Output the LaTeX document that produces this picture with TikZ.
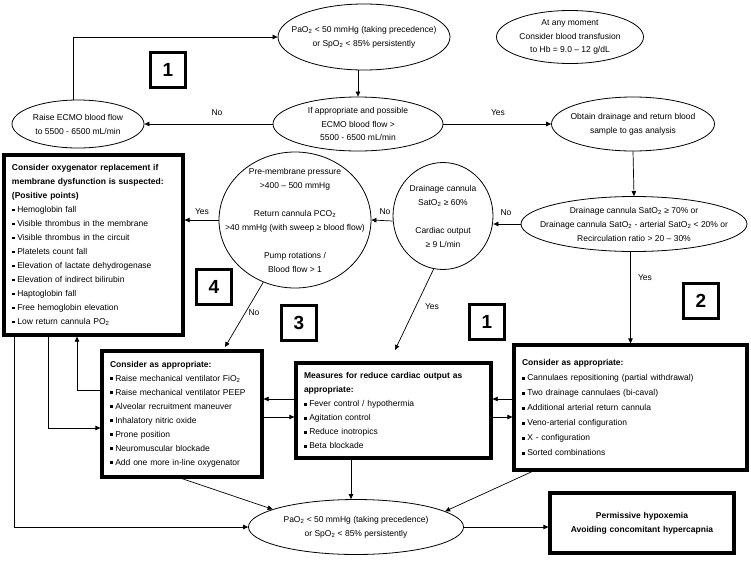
\documentclass[tikz,border=0pt]{standalone}
\usepackage{fontspec}
\setmainfont{Liberation Sans}
\usetikzlibrary{shapes.geometric,arrows.meta}
\newcommand{\myb}{\raisebox{1pt}{\rule{2.8pt}{2.8pt}}\hspace{2.5pt}}
\newcommand{\two}{\textsubscript{2}}
\begin{document}
\begin{tikzpicture}[x=1pt,y=-1pt,
 f/.style={font=\fontsize{8.5}{14}\selectfont},
 ell/.style={ellipse,draw,line width=0.8pt,inner sep=0pt},
 txt/.style={f,align=center,inner sep=0pt},
 box/.style={draw,line width=3.2pt,rectangle,f,align=left,inner xsep=8pt,inner ysep=0pt},
 num/.style={draw,line width=3.4pt,minimum size=35pt,inner sep=0pt,font=\fontsize{19}{19}\selectfont\bfseries},
 arr/.style={-{Triangle[length=5pt,width=4.5pt]},line width=0.7pt},
 lab/.style={f,inner sep=0pt}]
\useasboundingbox[fill=white] (0,0) rectangle (751,560);

% ellipses
\node[ell,minimum width=172pt,minimum height=66pt] (top) at (364,37) {};
\node[txt] (toptxt) at (top) {PaO\two{} < 50 mmHg (taking precedence)\\ or SpO\two{} < 85\% persistently};
\node[ell,minimum width=147pt,minimum height=53pt] (transf) at (570,37) {};
\node[txt,font=\fontsize{8.5}{13.5}\selectfont] (transftxt) at (transf) {At any moment\\ Consider blood transfusion\\ to Hb = 9.0 – 12 g/dL};
\node[ell,minimum width=132pt,minimum height=48pt] (raise) at (78,124) {};
\node[txt] (raisetxt) at (raise) {Raise ECMO blood flow\\ to 5500 - 6500 mL/min};
\node[ell,minimum width=170pt,minimum height=54pt] (ifapp) at (358,124) {};
\node[txt,font=\fontsize{8.5}{13.5}\selectfont] (ifapptxt) at (ifapp) {If appropriate and possible\\ ECMO blood flow >\\ 5500 - 6500 mL/min};
\node[ell,minimum width=163pt,minimum height=54pt] (obtain) at (633,124) {};
\node[txt] (obtaintxt) at (obtain) {Obtain drainage and return blood\\ sample to gas analysis};
\node[ell,minimum width=226pt,minimum height=55pt] (drain) at (634,224) {};
\node[txt] (draintxt) at (drain) {Drainage cannula SatO\two{} ≥ 70\% or\\ Drainage cannula SatO\two{} - arterial SatO\two{} < 20\% or\\ Recirculation ratio > 20 – 30\%};
\node[ell,minimum width=100pt,minimum height=107pt] (small) at (443,216) {};
\node[txt] (smalltxt) at (small) {Drainage cannula\\ SatO\two{} ≥ 60\%\\[14pt] Cardiac output\\ ≥ 9 L/min};
\node[ell,minimum width=152pt,minimum height=136pt] (big) at (295,220) {};
\node[txt] (bigtxt) at (big) {Pre-membrane pressure\\ >400 – 500 mmHg\\[14pt] Return cannula PCO\two\\ >40 mmHg (with sweep ≥ blood flow)\\[14pt] Pump rotations /\\ Blood flow > 1};
\node[ell,minimum width=215pt,minimum height=55pt] (bottom) at (356,527) {};
\node[txt] (bottomtxt) at (bottom) {PaO\two{} < 50 mmHg (taking precedence)\\ or SpO\two{} < 85\% persistently};

% boxes
\node[box,minimum width=179pt,minimum height=180pt,text width=163pt] (box4) at (93.5,245) {\textbf{Consider oxygenator replacement if}\\ \textbf{membrane dysfunction is suspected:}\\ \textbf{(Positive points)}\\ \myb Hemoglobin fall\\ \myb Visible thrombus in the membrane\\ \myb Visible thrombus in the circuit\\ \myb Platelets count fall\\ \myb Elevation of lactate dehydrogenase\\ \myb Elevation of indirect bilirubin\\ \myb Haptoglobin fall\\ \myb Free hemoglobin elevation\\ \myb Low return cannula PO\two};
\node[box,minimum width=160pt,minimum height=126pt,text width=144pt] (leftmid) at (182,414) {\textbf{Consider as appropriate:}\\ \myb Raise mechanical ventilator FiO\two\\ \myb Raise mechanical ventilator PEEP\\ \myb Alveolar recruitment maneuver\\ \myb Inhalatory nitric oxide\\ \myb Prone position\\ \myb Neuromuscular blockade\\ \myb Add one more in-line oxygenator};
\node[box,minimum width=195pt,minimum height=95pt,text width=179pt] (mid) at (393.5,410.5) {\textbf{Measures for reduce cardiac output as}\\ \textbf{appropriate:}\\ \myb Fever control / hypothermia\\ \myb Agitation control\\ \myb Reduce inotropics\\ \myb Beta blockade};
\node[box,minimum width=233pt,minimum height=125pt,text width=217pt,font=\fontsize{8.5}{15}\selectfont] (rightbox) at (630.5,407.5) {\textbf{Consider as appropriate:}\\ \myb Cannulaes repositioning (partial withdrawal)\\ \myb Two drainage cannulaes (bi-caval)\\ \myb Additional arterial return cannula\\ \myb Veno-arterial configuration\\ \myb X - configuration\\ \myb Sorted combinations};
\node[box,align=center,minimum width=184pt,minimum height=60pt,text width=168pt] (perm) at (642,523) {\textbf{Permissive hypoxemia}\\ \textbf{Avoiding concomitant hypercapnia}};

% number boxes
\node[num] (n1a) at (168,70) {1};
\node[num] (n4) at (214,287) {4};
\node[num] (n3) at (299,323) {3};
\node[num] (n1b) at (487,322) {1};
\node[num] (n2) at (701,301) {2};

% connectors
\draw[arr] ([xshift=-5pt]raise.north) |- (top.west);
\draw[arr] (ifapp.north |- top.south) -- (ifapp.north);
\draw[arr] (ifapp.west) -- (raise.east);
\draw[arr] (ifapp.east) -- (obtain.west);
\draw[arr] (obtain.south) -- (drain.north);
\draw[arr] (drain.west) -- (drain.west -| small.east);
\draw[arr] ([yshift=-5pt]small.west) -- (big.east);
\draw[arr] (big.west) -- (big.west -| box4.east);
\coordinate (noend) at (225,347);
\draw[arr] (big.243) -- (noend);
\coordinate (yesend) at (395,350);
\draw[arr] (small.260) -- (yesend);
\draw[arr] (rightbox.north |- drain.south) -- (rightbox.north);
\draw[arr] (mid.west |- 0,399) -- (leftmid.east |- 0,399);
\draw[arr] (leftmid.east |- 0,417) -- (mid.west |- 0,417);
\draw[arr] (rightbox.west |- 0,399) -- (mid.east |- 0,399);
\draw[arr] (mid.east |- 0,417) -- (rightbox.west |- 0,417);
\draw[arr] (leftmid.west |- 0,390) -| (box4.south -| 77,0);
\draw[arr] (box4.south -| 48,0) |- (leftmid.west |- 0,428);
\draw[arr] (box4.south -| 14,0) |- (bottom.west);
\draw[arr] (leftmid.south) -- (bottom.168);
\draw[arr] (mid.south -| 351,0) -- (bottom.north -| 351,0);
\draw[arr] (rightbox.south -| 532,0) -- (bottom.10);
\draw[arr] (bottom.east) -- (bottom.east -| perm.west);

% labels
\node[lab] (l1) at (217,113) {No};
\node[lab] (l2) at (498,113) {Yes};
\node[lab] (l3) at (506,213) {No};
\node[lab] (l4) at (385,212) {No};
\node[lab] (l5) at (202,212) {Yes};
\node[lab] (l6) at (254,313) {No};
\node[lab] (l7) at (432,307) {Yes};
\node[lab] (l8) at (645,278) {Yes};
\end{tikzpicture}
\end{document}
